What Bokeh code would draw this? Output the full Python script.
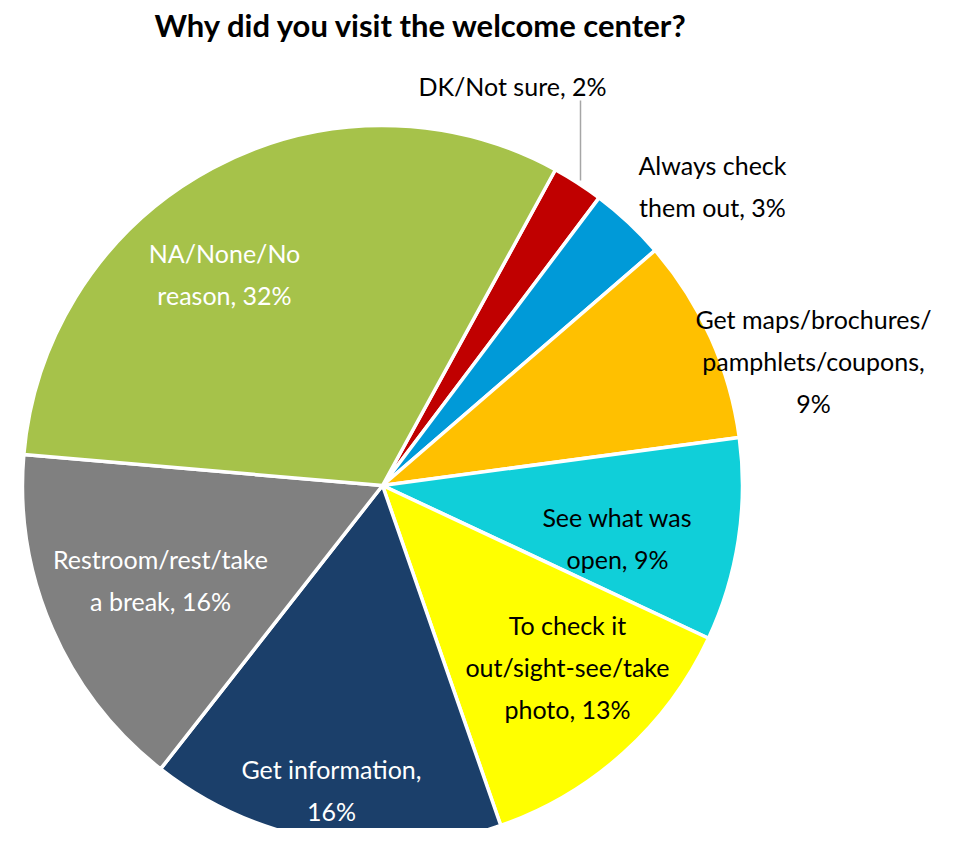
import numpy as np
from bokeh.plotting import figure
from bokeh.models import Range1d, ColumnDataSource
from bokeh.core.properties import value
from bokeh.embed import file_html
from bokeh.resources import INLINE

# ---- data (clockwise from the DK slice) ----
categories = ["DK/Not sure", "Always check them out", "Get maps/brochures/pamphlets/coupons",
              "See what was open", "To check it out/sight-see/take photo", "Get information",
              "Restroom/rest/take a break", "NA/None/No reason"]
shares = [2.3, 3.4, 9.2, 9.1, 12.7, 15.9, 15.8, 31.6]
pct_labels = ["2%", "3%", "9%", "9%", "13%", "16%", "16%", "32%"]
label_texts = ["DK/Not sure, 2%", "Always check\nthem out, 3%", "Get maps/brochures/\npamphlets/coupons,\n9%",
               "See what was\nopen, 9%", "To check it\nout/sight-see/take\nphoto, 13%", "Get information,\n16%",
               "Restroom/rest/take\na break, 16%", "NA/None/No\nreason, 32%"]
colors = ["#C00000", "#009AD8", "#FFC000", "#10CFD9", "#FFFF00", "#1B3F6A", "#808080", "#A6C24A"]
label_colors = ["black", "black", "black", "black", "black", "white", "white", "white"]

# ---- layout (screen pixel space; data y = H - screen y) ----
H = 844
W_FIG, H_FIG = 939, 828
cx, cy = 382, H - 485
R = 360
first_angle_cw = 28.7  # degrees clockwise from 12 o'clock where the first slice begins

# label anchor positions (screen px)
label_x = [512, 712, 813, 617, 567, 331, 160, 224]
label_y = [85, 185, 360, 537, 666, 789, 579, 273]

frac = np.array(shares) / np.sum(shares)
cum = np.concatenate([[0], np.cumsum(frac)]) * 360.0 + first_angle_cw
cw_start = cum[:-1]
cw_end = cum[1:]
# convert to math angles (anticlockwise from +x)
start_math = np.radians(90 - cw_end)
end_math = np.radians(90 - cw_start)

src = ColumnDataSource(dict(cat=categories, start=start_math, end=end_math, color=colors))

p = figure(width=W_FIG, height=H_FIG, output_backend="svg", toolbar_location=None,
           x_range=Range1d(0, W_FIG), y_range=Range1d(H - H_FIG, H), min_border=0)
p.axis.visible = False
p.grid.visible = False
p.outline_line_color = None
p.background_fill_color = "white"
p.border_fill_color = "white"

p.wedge(x=cx, y=cy, radius=R, start_angle="start", end_angle="end", direction="anticlock",
        fill_color="color", line_color="white", line_width=3.5, source=src)

# leader line for DK slice
p.segment(x0=[580], y0=[H - 100], x1=[580], y1=[H - 180], line_color="#A6A6A6", line_width=1.5)

lsrc = ColumnDataSource(dict(x=label_x, y=[H - v for v in label_y], t=label_texts, c=label_colors))
p.text(x="x", y="y", text="t", text_color="c", source=lsrc, text_font=value("Lato"),
       text_font_size="25px", text_align="center", text_baseline="middle", text_line_height=1.4)

p.text(x=[421], y=[H - 24], text=["Why did you visit the welcome center?"], text_font=value("Lato"),
       text_font_size="31px", text_font_style="bold", text_align="center", text_baseline="middle",
       text_color="black")

open("out.html", "w").write(file_html(p, INLINE))
